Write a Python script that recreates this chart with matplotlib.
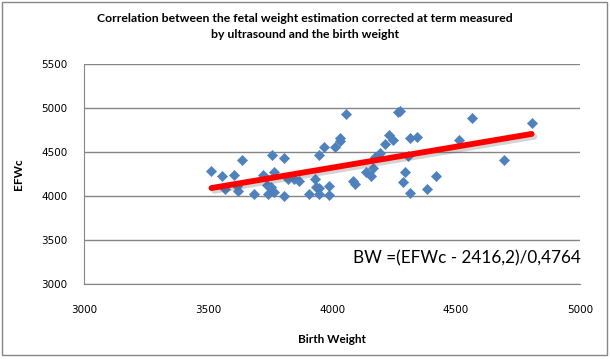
import numpy as np
import matplotlib
matplotlib.use("Agg")
import matplotlib.pyplot as plt
import matplotlib.patheffects as pe
from matplotlib.patches import Rectangle

# birth weight (x) and corrected fetal weight estimate (y)
birth_weight = [3514, 3555, 3568, 3606, 3617, 3622, 3636, 3684, 3723, 3737,
                3743, 3753, 3757, 3765, 3765, 3805, 3805, 3822, 3846, 3866,
                3906, 3933, 3936, 3947, 3949, 3947, 3968, 3987, 3987, 4014,
                4034, 4034, 4055, 4084, 4093, 4137, 4158, 4165, 4172, 4194,
                4215, 4230, 4246, 4266, 4275, 4307, 4313, 4343, 4293, 4286,
                4313, 4383, 4420, 4511, 4565, 4693, 4805]
efwc = [4284, 4223, 4079, 4238, 4109, 4060, 4405, 4019, 4238, 4121,
        4019, 4106, 4465, 4276, 4049, 4428, 4005, 4189, 4189, 4174,
        4019, 4189, 4106, 4095, 4019, 4462, 4560, 4113, 4011, 4560,
        4655, 4625, 4928, 4170, 4136, 4276, 4231, 4314, 4446, 4484,
        4587, 4693, 4636, 4950, 4965, 4458, 4655, 4666, 4269, 4155,
        4030, 4075, 4223, 4632, 4882, 4405, 4825]

# trendline EFWc = 0.4764 * BW + 2416.2
slope = 0.4764
intercept = 2416.2

x_ticks = [3000, 3500, 4000, 4500, 5000]
y_ticks = [3000, 3500, 4000, 4500, 5000, 5500]

plt.rcParams['font.family'] = ['Lato', 'DejaVu Sans']

fig = plt.figure(figsize=(6.1, 3.59), dpi=100)
ax = fig.add_axes([84 / 610, 75 / 359, 496 / 610, 220 / 359])

ax.scatter(birth_weight, efwc, marker='D', s=28, color='#4F81BD',
           edgecolors='#4A7EBB', linewidths=0.3, zorder=3)

xs = np.array([min(birth_weight), max(birth_weight)])
ax.plot(xs, slope * xs + intercept, color='#FF0000', lw=4.2,
        solid_capstyle='round', zorder=4,
        path_effects=[pe.SimpleLineShadow(offset=(2, -2), alpha=0.25, shadow_color='#555555'),
                      pe.Normal()])

ax.set_xlim(3000, 5000)
ax.set_ylim(3000, 5500)
ax.set_xticks(x_ticks)
ax.set_yticks(y_ticks)
ax.yaxis.grid(True, color='#868686', lw=1)
ax.set_axisbelow(True)
for s in ['top', 'right']:
    ax.spines[s].set_visible(False)
for s in ['left', 'bottom']:
    ax.spines[s].set_color('#868686')
ax.tick_params(length=0, colors='black')
for lab in ax.get_xticklabels() + ax.get_yticklabels():
    lab.set_fontfamily('DejaVu Sans')
    lab.set_fontsize(7.5)
ax.tick_params(axis='x', pad=15)
ax.tick_params(axis='y', pad=12)

ax.set_xlabel('Birth Weight', fontsize=8.5, fontweight='bold', labelpad=14)
ax.set_ylabel('EFWc', fontsize=8.5, fontweight='bold', labelpad=12)

fig.text(0.5, 1 - 18 / 359, 'Correlation between the fetal weight estimation corrected at term measured',
         ha='center', va='center', fontsize=8.8, fontweight='bold')
fig.text(0.5, 1 - 35 / 359, 'by ultrasound and the birth weight',
         ha='center', va='center', fontsize=8.8, fontweight='bold')

fig.text(581 / 610, 1 - 258 / 359, 'BW =(EFWc - 2416,2)/0,4764',
         ha='right', va='center', fontsize=12.3)

fig.patches.append(Rectangle((1.5 / 610, 4 / 359), 605 / 610, 353 / 359,
                             transform=fig.transFigure, fill=False,
                             edgecolor='#868686', lw=1))

fig.savefig('out.png', dpi=100)
